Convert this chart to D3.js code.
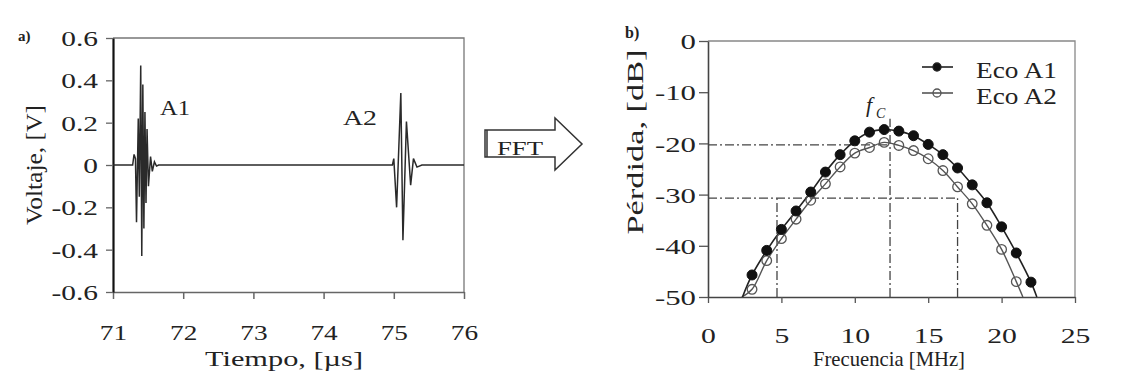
<!DOCTYPE html>
<html>
<head>
<meta charset="utf-8">
<script src="https://cdn.jsdelivr.net/npm/d3@7"></script>
<style>
  body { margin: 0; background: #fff; }
  svg { display: block; }
  text { font-family: "Liberation Serif", "Times New Roman", serif; fill: #222; }
</style>
</head>
<body>
<div id="chart"></div>
<script>
// a) echo trace: vertices
const timeUs = [71.00, 71.28, 71.30, 71.32, 71.335, 71.36, 71.375, 71.395, 71.41, 71.425, 71.44, 71.455,
  71.47, 71.485, 71.505, 71.535, 71.56, 71.59, 71.62, 71.65,
  74.98, 75.00, 75.04, 75.10, 75.13, 75.18, 75.24, 75.28, 75.33, 75.40, 76.00];
const voltage = [0, 0, 0.05, 0.03, -0.27, 0.22, -0.15, 0.47, -0.43, 0.38, -0.30, 0.25,
  -0.18, 0.17, -0.10, 0.04, -0.03, 0.015, -0.005, 0,
  0, 0.03, -0.20, 0.34, -0.355, 0.205, -0.095, 0.03, -0.01, 0, 0];
const timeTicks = [71, 72, 73, 74, 75, 76];
const voltTicks = [-0.6, -0.4, -0.2, 0, 0.2, 0.4, 0.6];

// b) spectra
const freqMHz = [3, 4, 5, 6, 7, 8, 9, 10, 11, 12, 13, 14, 15, 16, 17, 18, 19, 20, 21, 22];
const lossA1 = [-45.7, -40.9, -36.8, -33.2, -29.5, -25.6, -22.2, -19.5, -17.8, -17.3,
  -17.6, -18.5, -20.2, -22.2, -24.8, -28.1, -31.6, -36.3, -41.4, -47.1];
const lossA2 = [-48.5, -42.9, -38.6, -34.8, -31.1, -27.9, -24.6, -21.9, -20.8, -19.8,
  -20.4, -21.4, -23.0, -25.3, -28.5, -31.8, -36.0, -40.7, -47.0];
// where the fitted curves leave the plot at the bottom
const endsA1 = [[2.35, -50], [22.4, -50]];
const endsA2 = [[2.3, -50], [21.45, -50]];
const freqTicks = [0, 5, 10, 15, 20, 25];
const lossTicks = [-50, -40, -30, -20, -10, 0];
const fc = 12.4;
const band = [4.7, 17.0];
const refLevels = [-20.3, -30.7];

const W = 1129, H = 390;
const SERIF = '"Liberation Serif", "Times New Roman", serif';
const svg = d3.select('#chart').append('svg').attr('width', W).attr('height', H);

// text stretched sideways like the scanned figure
function label(x, y, str, o = {}) {
  const t = svg.append('text')
    .attr('transform', `translate(${x},${y}) rotate(${o.rot || 0}) scale(${o.sx || 1},1)`)
    .attr('font-size', (o.size || 20) + 'px')
    .attr('text-anchor', o.anchor || 'start')
    .style('font-family', SERIF)
    .style('fill', '#222')
    .text(str);
  if (o.weight) t.attr('font-weight', o.weight);
  if (o.style) t.attr('font-style', o.style);
  if (o.len) t.attr('textLength', o.len).attr('lengthAdjust', 'spacingAndGlyphs');
  return t;
}

function styleTicks(g, sx, size, side, off) {
  g.attr('font-family', null);
  g.selectAll('text')
    .style('font-family', SERIF)
    .style('fill', '#222')
    .attr('font-size', size + 'px')
    .attr('transform', `scale(${sx},1)`)
    .each(function () {
      const t = d3.select(this);
      if (side === 'left') t.attr('x', -off / sx).attr('dy', '0.35em');
      else t.attr('y', off).attr('dy', '0.71em');
    });
}

const plainNum = f => d => (d === 0 ? '0' : f(d).replace('\u2212', '-'));

// ---------- a) ----------
const xA = d3.scaleLinear().domain([71, 76]).range([113, 464]);
const yA = d3.scaleLinear().domain([-0.6, 0.6]).range([292, 38]);

svg.append('path')
  .attr('d', `M${xA(71)},${yA(0.6)}H${xA(76)}V${yA(-0.6)}`)
  .attr('fill', 'none').attr('stroke', '#777').attr('stroke-width', 1.3);

const axA = svg.append('g').attr('transform', `translate(0,${yA(-0.6)})`)
  .call(d3.axisBottom(xA).tickValues(timeTicks).tickFormat(d3.format('d')).tickSize(7).tickSizeOuter(0));
axA.select('.domain').attr('stroke', '#666').attr('stroke-width', 1.5);
axA.selectAll('line').attr('stroke', '#666').attr('stroke-width', 1.5);
styleTicks(axA, 1.3, 21, 'bottom', 33);

const ayA = svg.append('g').attr('transform', `translate(${xA(71)},0)`)
  .call(d3.axisLeft(yA).tickValues(voltTicks).tickFormat(plainNum(d3.format('.1f'))).tickSize(7).tickSizeOuter(0));
ayA.select('.domain').attr('stroke', '#111').attr('stroke-width', 2.2);
ayA.selectAll('line').attr('stroke', '#666').attr('stroke-width', 1.3);
styleTicks(ayA, 1.4, 21, 'left', 15);

const trace = d3.line().x((d, i) => xA(timeUs[i])).y(d => yA(d));
svg.append('path').datum(voltage)
  .attr('d', trace)
  .attr('fill', 'none').attr('stroke', '#2a2a2a').attr('stroke-width', 1.5)
  .attr('stroke-linejoin', 'miter');

label(160, 115, 'A1', { size: 21, len: 30 });
label(343, 125, 'A2', { size: 21, len: 34 });
label(18, 41, 'a)', { size: 15, weight: 'bold' });
label(42, yA(0), 'Voltaje, [V]', { size: 24, rot: -90, anchor: 'middle', len: 120 });
label(284, 366, 'Tiempo,  [µs]', { size: 22, anchor: 'middle', len: 158 });

// FFT arrow
svg.append('path')
  .attr('d', 'M485,130H555V118L582,144L555,170V157H485Z')
  .attr('fill', '#fff').attr('stroke', '#333').attr('stroke-width', 1.5);
svg.append('line').attr('x1', 487).attr('x2', 487).attr('y1', 130).attr('y2', 157)
  .attr('stroke', '#333').attr('stroke-width', 1.5);
label(520, 155, 'FFT', { size: 19, anchor: 'middle', len: 46 });

// ---------- b) ----------
const xB = d3.scaleLinear().domain([0, 25]).range([708, 1075]);
const yB = d3.scaleLinear().domain([-50, 0]).range([297, 41]);

svg.append('path')
  .attr('d', `M${xB(0)},${yB(0)}H${xB(25)}V${yB(-50)}`)
  .attr('fill', 'none').attr('stroke', '#888').attr('stroke-width', 1.3);

const axB = svg.append('g').attr('transform', `translate(0,${yB(-50)})`)
  .call(d3.axisBottom(xB).tickValues(freqTicks).tickSize(6).tickSizeOuter(0));
axB.select('.domain').attr('stroke', '#444').attr('stroke-width', 1.5);
axB.selectAll('line').attr('stroke', '#555').attr('stroke-width', 1.3);
styleTicks(axB, 1.35, 22, 'bottom', 30);

const ayB = svg.append('g').attr('transform', `translate(${xB(0)},0)`)
  .call(d3.axisLeft(yB).tickValues(lossTicks).tickFormat(plainNum(d3.format('d'))).tickSize(9).tickSizeOuter(0));
ayB.select('.domain').attr('stroke', '#444').attr('stroke-width', 1.6);
ayB.selectAll('line').attr('stroke', '#555').attr('stroke-width', 1.3);
styleTicks(ayB, 1.4, 22, 'left', 12);

// dash-dot guides
const guide = (x1, y1, x2, y2) => svg.append('line')
  .attr('x1', xB(x1)).attr('y1', yB(y1)).attr('x2', xB(x2)).attr('y2', yB(y2))
  .attr('stroke', '#444').attr('stroke-width', 1.3).attr('stroke-dasharray', '9,3,2,3');
guide(0, refLevels[0], fc, refLevels[0]);
guide(0, refLevels[1], band[1], refLevels[1]);
guide(fc, -50, fc, -15.2);
guide(band[0], -50, band[0], refLevels[1]);
guide(band[1], -50, band[1], refLevels[1]);

const curve = d3.line().x(d => xB(d[0])).y(d => yB(d[1])).curve(d3.curveCatmullRom.alpha(0.5));
const ptsA1 = freqMHz.map((f, i) => [f, lossA1[i]]);
const ptsA2 = freqMHz.slice(0, lossA2.length).map((f, i) => [f, lossA2[i]]);

svg.append('path').datum([endsA2[0], ...ptsA2, endsA2[1]])
  .attr('d', curve).attr('fill', 'none').attr('stroke', '#555').attr('stroke-width', 1.4);
svg.append('path').datum([endsA1[0], ...ptsA1, endsA1[1]])
  .attr('d', curve).attr('fill', 'none').attr('stroke', '#222').attr('stroke-width', 1.6);

svg.selectAll('circle.a2').data(ptsA2).enter().append('circle')
  .attr('class', 'a2')
  .attr('cx', d => xB(d[0])).attr('cy', d => yB(d[1])).attr('r', 4.8)
  .attr('fill', 'none').attr('stroke', '#555').attr('stroke-width', 1.3);
svg.selectAll('circle.a1').data(ptsA1).enter().append('circle')
  .attr('class', 'a1')
  .attr('cx', d => xB(d[0])).attr('cy', d => yB(d[1])).attr('r', 5)
  .attr('fill', '#111').attr('stroke', '#111');

// legend
const legend = [
  { name: 'Eco A1', y: 67, fill: '#111', stroke: '#222', r: 4 },
  { name: 'Eco A2', y: 93, fill: 'none', stroke: '#555', r: 4 }
];
legend.forEach(d => {
  svg.append('line').attr('x1', 922).attr('x2', 953).attr('y1', d.y).attr('y2', d.y)
    .attr('stroke', d.stroke).attr('stroke-width', 1.6);
  svg.append('circle').attr('cx', 937).attr('cy', d.y).attr('r', d.r)
    .attr('fill', d.fill).attr('stroke', d.stroke).attr('stroke-width', 1.3);
  label(976, d.y + 11, d.name, { size: 23, len: 81 });
});

// f_C marker
label(866, 112, 'f', { size: 22, style: 'italic' });
label(876, 118, 'C', { size: 14, style: 'italic' });

label(625, 38, 'b)', { size: 16, weight: 'bold' });
label(643, 142, 'Pérdida, [dB]', { size: 24, rot: -90, anchor: 'middle', len: 185 });
label(889, 366, 'Frecuencia [MHz]', { size: 21, anchor: 'middle', len: 152 });
</script>
</body>
</html>
